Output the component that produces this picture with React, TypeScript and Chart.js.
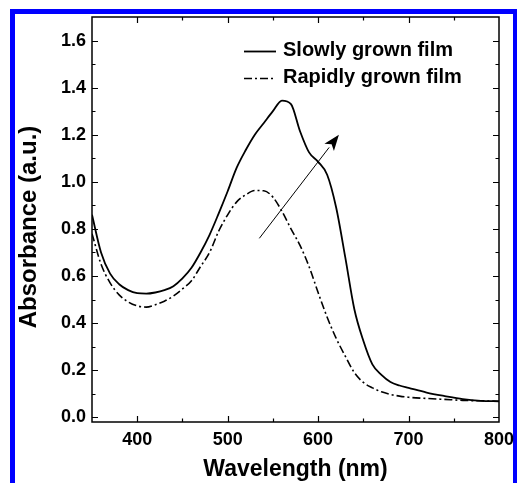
import React, { useEffect, useRef } from "react";
import { Chart, registerables } from "chart.js";

Chart.register(...registerables);

// ---- data ----
const wavelengths = [
  350, 360, 370, 380, 390, 400, 410, 420, 430, 440, 450, 460, 470, 480, 490,
  500, 510, 520, 530, 540, 550, 560, 570, 580, 590, 600, 610, 620, 630, 640,
  650, 660, 670, 680, 690, 700, 720, 740, 760, 780, 800,
];
const slowlyGrown = [
  0.86, 0.7, 0.61, 0.565, 0.54, 0.527, 0.525, 0.53, 0.54, 0.557, 0.59, 0.635,
  0.7, 0.775, 0.865, 0.96, 1.06, 1.135, 1.2, 1.25, 1.3, 1.345, 1.33, 1.215,
  1.125, 1.085, 1.03, 0.89, 0.68, 0.46, 0.325, 0.225, 0.18, 0.15, 0.135,
  0.125, 0.105, 0.09, 0.077, 0.07, 0.068,
];
const rapidlyGrown = [
  0.78, 0.65, 0.571, 0.52, 0.49, 0.473, 0.468, 0.478, 0.493, 0.515, 0.545,
  0.58, 0.64, 0.7, 0.79, 0.86, 0.915, 0.945, 0.963, 0.962, 0.935, 0.875, 0.8,
  0.73, 0.64, 0.53, 0.425, 0.335, 0.26, 0.19, 0.148, 0.125, 0.108, 0.097,
  0.09, 0.085, 0.08, 0.076, 0.072, 0.07, 0.068,
];
const seriesLabels = ["Slowly grown film", "Rapidly grown film"];
const xTitle = "Wavelength (nm)";
const yTitle = "Absorbance (a.u.)";
const xMin = 350;
const xMax = 800;
const yMin = -0.02;
const yMax = 1.7;
const arrowFrom = { x: 535, y: 0.76 };
const arrowTo = { x: 623, y: 1.2 };

const FONT = "'Liberation Sans', Arial, Helvetica, sans-serif";
const DASHDOT = [8, 3, 2, 3];

const framePlugin = {
  id: "framePlugin",
  afterDraw(chart: any) {
    const { ctx, chartArea: ca, scales } = chart;
    const xs = scales.x;
    const ys = scales.y;
    ctx.save();
    ctx.strokeStyle = "#000";
    // frame
    ctx.lineWidth = 1.5;
    ctx.strokeRect(ca.left, ca.top, ca.right - ca.left, ca.bottom - ca.top);
    // ticks (inward on all sides)
    ctx.lineWidth = 1.2;
    ctx.beginPath();
    for (let v = 400; v < xMax; v += 50) {
      const len = v % 100 === 0 ? 6 : 3.5;
      const px = Math.round(xs.getPixelForValue(v)) + 0.5;
      ctx.moveTo(px, ca.bottom);
      ctx.lineTo(px, ca.bottom - len);
      ctx.moveTo(px, ca.top);
      ctx.lineTo(px, ca.top + len);
    }
    for (let i = 0; i <= 16; i++) {
      const v = i / 10;
      const len = i % 2 === 0 ? 6 : 3.5;
      const py = Math.round(ys.getPixelForValue(v)) + 0.5;
      ctx.moveTo(ca.left, py);
      ctx.lineTo(ca.left + len, py);
      ctx.moveTo(ca.right, py);
      ctx.lineTo(ca.right - len, py);
    }
    ctx.stroke();

    // arrow
    const x1 = xs.getPixelForValue(arrowFrom.x);
    const y1 = ys.getPixelForValue(arrowFrom.y);
    const x2 = xs.getPixelForValue(arrowTo.x);
    const y2 = ys.getPixelForValue(arrowTo.y);
    const ang = Math.atan2(y2 - y1, x2 - x1);
    const headLen = 16;
    const headW = 6;
    const bx = x2 - headLen * Math.cos(ang);
    const by = y2 - headLen * Math.sin(ang);
    ctx.lineWidth = 1;
    ctx.beginPath();
    ctx.moveTo(x1, y1);
    ctx.lineTo(bx, by);
    ctx.stroke();
    ctx.fillStyle = "#000";
    ctx.beginPath();
    ctx.moveTo(x2, y2);
    ctx.lineTo(bx + headW * Math.sin(ang), by - headW * Math.cos(ang));
    ctx.lineTo(bx + 4 * Math.cos(ang), by + 4 * Math.sin(ang));
    ctx.lineTo(bx - headW * Math.sin(ang), by + headW * Math.cos(ang));
    ctx.closePath();
    ctx.fill();

    // legend
    const ds = chart.data.datasets;
    const lx0 = 244;
    const lx1 = 276;
    const rows = [51.5, 78.5];
    ctx.font = `bold 20px ${FONT}`;
    ctx.textBaseline = "middle";
    ctx.textAlign = "left";
    ds.forEach((d: any, i: number) => {
      ctx.beginPath();
      ctx.lineWidth = d.borderWidth;
      ctx.setLineDash(d.borderDash || []);
      ctx.moveTo(lx0, rows[i]);
      ctx.lineTo(lx1, rows[i]);
      ctx.stroke();
      ctx.setLineDash([]);
      ctx.fillStyle = "#000";
      ctx.fillText(d.label, 283, rows[i] - 1.5);
    });

    // y-axis title
    ctx.save();
    ctx.translate(29, 227);
    ctx.rotate(-Math.PI / 2);
    ctx.font = `bold 24px ${FONT}`;
    ctx.textAlign = "center";
    ctx.textBaseline = "middle";
    ctx.fillText(yTitle, 0, 0);
    ctx.restore();

    ctx.restore();
  },
};

export default function App() {
  const ref = useRef<HTMLCanvasElement | null>(null);
  useEffect(() => {
    if (!ref.current) return;
    const chart = new Chart(ref.current, {
      type: "line",
      data: {
        datasets: [
          {
            label: seriesLabels[0],
            data: wavelengths.map((x, i) => ({ x, y: slowlyGrown[i] })),
            borderColor: "#000",
            borderWidth: 1.8,
            pointRadius: 0,
            cubicInterpolationMode: "monotone",
            fill: false,
          },
          {
            label: seriesLabels[1],
            data: wavelengths.map((x, i) => ({ x, y: rapidlyGrown[i] })),
            borderColor: "#000",
            borderWidth: 1.6,
            borderDash: DASHDOT,
            pointRadius: 0,
            cubicInterpolationMode: "monotone",
            fill: false,
          },
        ],
      },
      options: {
        animation: false,
        responsive: false,
        maintainAspectRatio: false,
        layout: { padding: { top: 17, right: 18, left: 0, bottom: 0 } },
        plugins: {
          legend: { display: false },
          tooltip: { enabled: false },
        },
        scales: {
          x: {
            type: "linear",
            min: xMin,
            max: xMax,
            grid: { display: false, drawTicks: false },
            border: { display: false },
            ticks: {
              stepSize: 100,
              includeBounds: false,
              color: "#000",
              padding: 7,
              maxRotation: 0,
              font: { family: FONT, size: 18, weight: "bold" },
            },
            title: {
              display: true,
              text: xTitle,
              color: "#000",
              padding: { top: 0, bottom: 0 },
              font: { family: FONT, size: 23, weight: "bold" },
            },
            afterFit: (s: any) => {
              s.height = 61;
              s.paddingLeft = 0;
              s.paddingRight = 0;
            },
          },
          y: {
            type: "linear",
            min: yMin,
            max: yMax,
            grid: { display: false, drawTicks: false },
            border: { display: false },
            ticks: {
              stepSize: 0.2,
              includeBounds: false,
              color: "#000",
              padding: 6,
              font: { family: FONT, size: 18, weight: "bold" },
              callback: (v: any) => Number(v).toFixed(1),
            },
            title: { display: false },
            afterFit: (s: any) => {
              s.width = 92;
              s.paddingTop = 0;
              s.paddingBottom = 0;
            },
          },
        },
      },
      plugins: [framePlugin],
    });
    return () => chart.destroy();
  }, []);

  return (
    <div
      style={{
        position: "fixed",
        left: 0,
        top: 0,
        width: 517,
        height: 483,
        overflow: "hidden",
        background: "#fff",
      }}
    >
      <div
        style={{
          position: "absolute",
          left: 10,
          top: 9,
          width: 498,
          height: 520,
          border: "5px solid #0000ff",
        }}
      />
      <canvas
        ref={ref}
        width={517}
        height={483}
        style={{ position: "absolute", left: 0, top: 0, width: 517, height: 483 }}
      />
    </div>
  );
}
